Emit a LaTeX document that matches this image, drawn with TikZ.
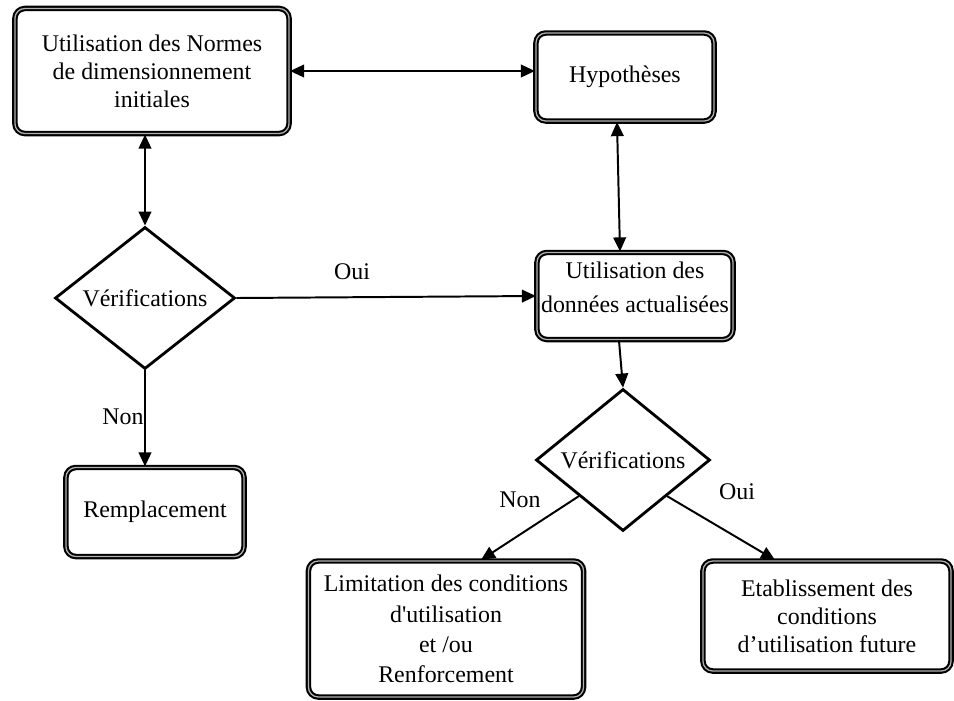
\documentclass[tikz,border=0pt]{standalone}
\usepackage{fontspec}
\setmainfont{Liberation Serif}
\usetikzlibrary{shapes.geometric,arrows.meta,calc}
\begin{document}
\begin{tikzpicture}[x=0.025cm,y=-0.025cm,
  boite/.style={draw,rounded corners=7pt,line width=1.5pt,double=gray!60,double distance=0.9pt,fill=white,align=center,inner sep=0pt,font=\fontsize{17}{20}\selectfont},
  losange/.style={draw,diamond,line width=2pt,inner sep=0pt,font=\fontsize{17}{20}\selectfont},
  fleche/.style={line width=1.4pt,-{Triangle[length=10pt,width=9pt]}},
  fleches/.style={line width=1.4pt,{Triangle[length=10pt,width=9pt]}-{Triangle[length=10pt,width=9pt]}},
  etiq/.style={font=\fontsize{17}{20}\selectfont,inner sep=0pt}]
\useasboundingbox (0,0) rectangle (954,700);
\node[boite,minimum width=6.85cm,minimum height=3.125cm] (normes) at (152,71) {Utilisation des Normes\\de dimensionnement\\initiales};
\node[boite,minimum width=4.45cm,minimum height=2.2cm] (hypo) at (625,77) {Hypothèses};
\node[boite,minimum width=4.9cm,minimum height=2.175cm] (donnees) at (635,296) {Utilisation des\\[4pt]données actualisées\\[-8pt]\mbox{}};
\node[boite,minimum width=4.45cm,minimum height=2.225cm] (rempl) at (155,512) {Remplacement};
\node[boite,minimum width=6.875cm,minimum height=3.4cm,font=\fontsize{17}{21.5}\selectfont] (limit) at (446,629) {Limitation des conditions\\d\textquotesingle utilisation\\et /ou\\Renforcement};
\node[boite,minimum width=6.2cm,minimum height=2.75cm] (etab) at (827,616) {Etablissement des\\conditions\\d’utilisation future};
\node[losange,minimum width=4.5cm,minimum height=3cm] (verif1) at (145,298) {Vérifications};
\node[losange,minimum width=4.35cm,minimum height=2.875cm] (verif2) at (623,460) {Vérifications};
\node[etiq] (oui1) at (352,272) {Oui};
\node[etiq] (non1) at (123,417) {Non};
\node[etiq] (non2) at (520,500) {Non};
\node[etiq] (oui2) at (737,492) {Oui};
\draw[fleches] (normes.east) -- (normes.east -| hypo.west);
\draw[fleches] (normes.south -| verif1.north) -- (verif1.north);
\draw[fleches] ($(hypo.south)+(-8,0)$) -- ($(donnees.north)+(-15,0)$);
\draw[fleche] (verif1.east) -- (donnees.west);
\draw[fleche] (verif1.south) -- (verif1.south |- rempl.north);
\draw[fleche] ($(donnees.south)+(-16,0)$) -- (verif2.north);
\draw[fleche] (verif2.south west) -- ($(limit.north)+(35,0)$);
\draw[fleche] (verif2.south east) -- ($(etab.north)+(-52,0)$);
\end{tikzpicture}
\end{document}
